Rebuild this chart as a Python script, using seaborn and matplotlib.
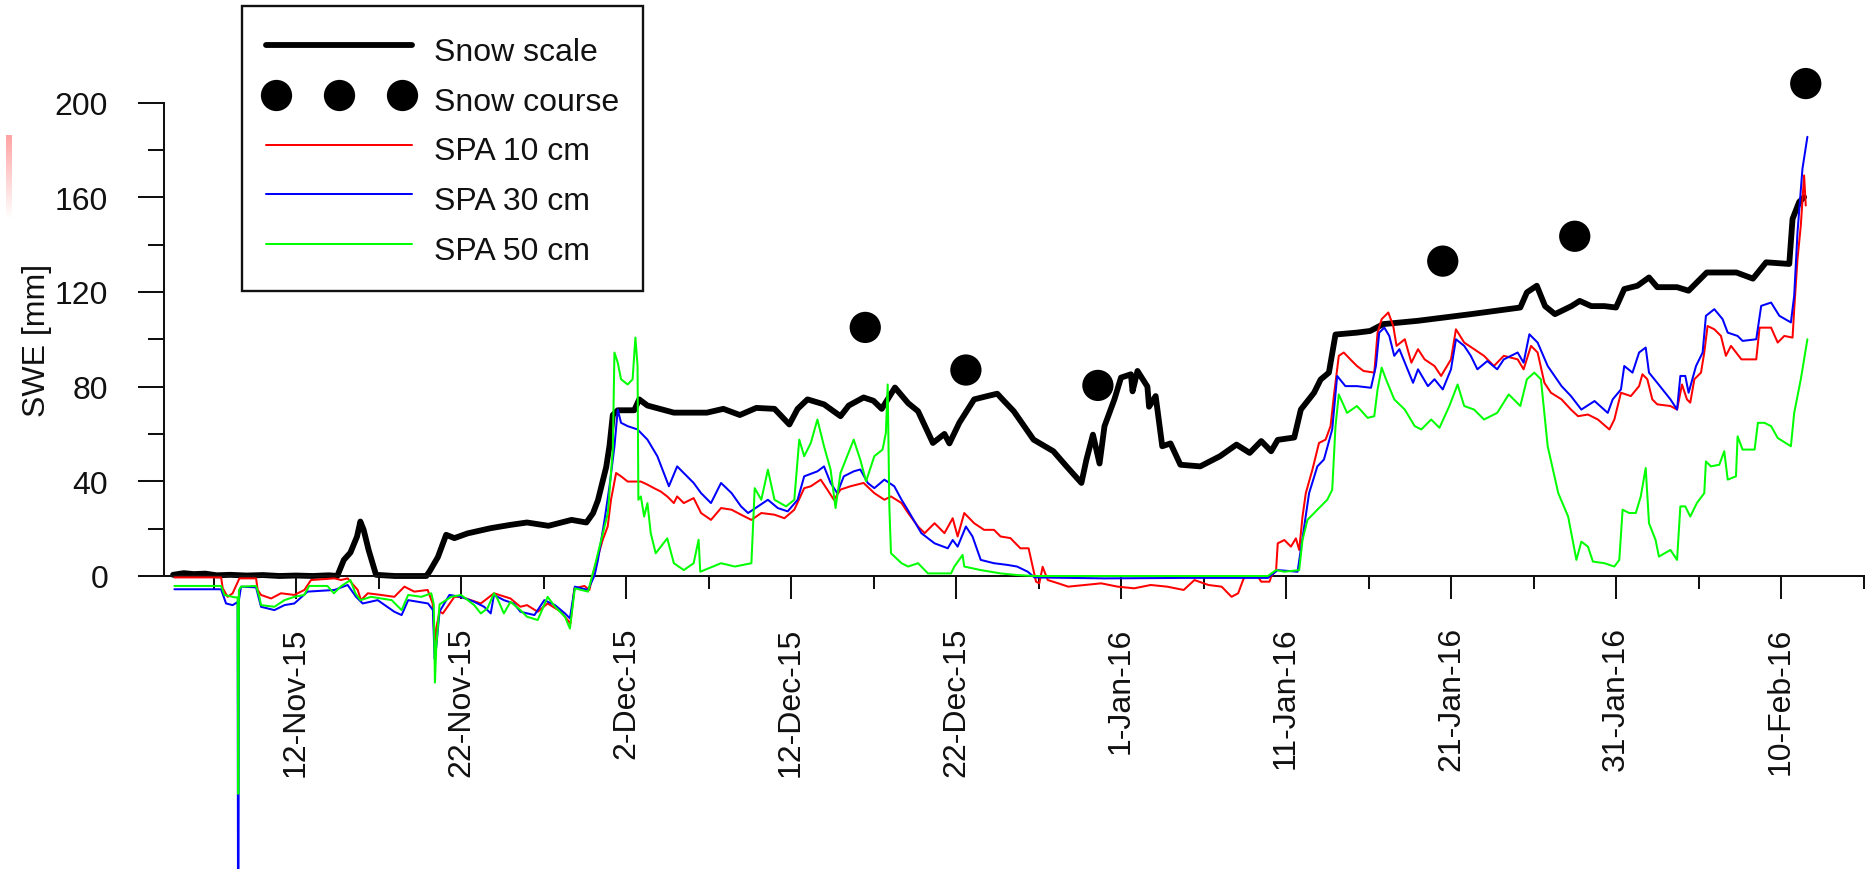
import numpy as np
import pandas as pd
import matplotlib
matplotlib.use("Agg")
import matplotlib.pyplot as plt
from matplotlib.lines import Line2D
from matplotlib.legend_handler import HandlerLine2D
import seaborn as sns

# Time is given as days since 1 Nov 2015 00:00
ORIGIN = pd.Timestamp("2015-11-01")

# Snow scale SWE (mm)
scale_points = [
    (3.55, 0.5), (4.2, 1.2), (4.8, 0.8), (5.5, 1.0), (6.2, 0.3), (7.0, 0.5), (8.0, 0.2),
    (9.0, 0.4), (10.0, 0.0), (11.0, 0.2), (12.0, 0.0), (13.0, 0.3), (13.5, 0.0), (13.9, 6.8),
    (14.3, 9.9), (14.7, 16.7), (14.9, 23.0), (15.1, 19.5), (15.4, 11.0), (15.85, 0.5),
    (17.0, 0.0), (18.9, 0.0), (19.1, 2.0), (19.6, 8.0), (20.1, 17.4), (20.6, 16.0),
    (21.4, 18.0), (22.8, 20.2), (24.0, 21.6), (25.0, 22.6), (26.3, 21.2), (27.7, 23.7),
    (28.6, 22.6), (29.0, 26.5), (29.3, 32.0), (29.6, 40.5), (29.8, 46.0), (30.0, 55.0),
    (30.2, 68.0), (30.5, 70.0), (31.5, 70.0), (31.8, 74.6), (32.3, 72.0), (33.9, 69.0),
    (35.9, 69.0), (36.9, 70.6), (37.9, 68.0), (38.9, 71.0), (40.0, 70.6), (40.9, 64.0),
    (41.4, 70.6), (42.0, 74.6), (43.0, 72.5), (44.0, 67.5), (44.5, 72.0), (45.4, 75.4),
    (46.0, 74.0), (46.5, 70.6), (47.3, 79.6), (48.1, 73.0), (48.7, 69.6), (49.6, 56.2),
    (50.3, 60.0), (50.6, 56.0), (51.2, 64.7), (52.1, 74.6), (52.9, 76.0), (53.5, 77.0),
    (53.9, 74.0), (54.5, 69.6), (55.7, 57.6), (56.9, 52.7), (57.7, 46.3), (58.6, 39.3),
    (58.9, 49.0), (59.3, 59.7), (59.7, 47.5), (60.0, 63.3), (60.6, 74.6), (61.0, 83.8),
    (61.6, 85.2), (61.7, 78.0), (62.0, 86.6), (62.6, 80.0), (62.7, 71.5), (63.1, 76.0),
    (63.5, 54.8), (64.0, 56.0), (64.6, 47.0), (65.8, 46.3), (67.0, 50.6), (68.0, 55.5),
    (68.8, 52.0), (69.5, 57.0), (70.1, 52.7), (70.5, 57.5), (71.5, 58.5), (71.9, 70.3),
    (72.7, 77.4), (73.1, 83.0), (73.6, 85.9), (73.8, 94.0), (74.0, 102.0), (75.3, 102.8),
    (76.1, 103.5), (76.9, 106.4), (79.0, 107.8), (82.2, 110.6), (85.2, 113.4), (85.6, 119.8),
    (86.2, 122.6), (86.7, 114.0), (87.3, 110.6), (88.3, 114.0), (88.8, 116.2), (89.5, 114.0),
    (90.3, 114.0), (91.0, 113.4), (91.5, 121.2), (92.3, 122.6), (93.0, 126.1), (93.5, 122.0),
    (94.7, 122.0), (95.4, 120.5), (96.5, 128.2), (98.3, 128.2), (99.3, 125.6), (100.1, 132.5),
    (101.5, 131.8), (101.7, 150.8), (102.1, 158.0), (102.4, 160.0),
]

# Manual snow course measurements (mm)
course_day = [45.5, 51.6, 59.6, 80.5, 88.5, 102.5]
course_swe = [105.0, 87.0, 80.5, 133.0, 143.5, 208.0]

# Snow pillow (SPA) readings at 10 cm
spa10_points = [
    (3.63, -0.6), (6.46, -0.6), (6.56, -5.2), (6.86, -8.8), (7.16, -7.3), (7.57, -1.0),
    (8.58, -1.0), (8.68, -5.9), (8.88, -8.0), (9.49, -9.5), (10.09, -7.3), (10.9, -8.0),
    (11.51, -5.9), (11.91, -1.7), (13.33, -1.0), (13.73, -1.7), (14.13, -1.0), (14.74, -5.9),
    (14.94, -10.2), (15.35, -7.3), (16.15, -8.0), (16.96, -8.8), (17.57, -4.5), (18.17, -6.6),
    (18.98, -5.9), (19.28, -11.6), (19.4, -28.0), (19.5, -22.0), (19.7, -15.0), (19.9, -15.8),
    (20.6, -8.8), (21.0, -8.8), (22.2, -11.6), (23.0, -7.3), (24.0, -9.5), (24.6, -13.0),
    (25.0, -12.3), (25.65, -15.1), (26.25, -11.6), (27.06, -15.1), (27.63, -20.1),
    (27.87, -5.2), (28.48, -4.2), (28.78, -5.9), (28.98, 0.4), (29.18, 5.4), (29.59, 15.3),
    (29.89, 20.9), (30.09, 32.2), (30.4, 43.5), (30.7, 42.1), (31.1, 39.9), (31.9, 39.9),
    (32.3, 38.6), (32.7, 37.1), (33.1, 35.7), (33.5, 33.6), (33.9, 30.8), (34.1, 33.6),
    (34.5, 30.8), (35.1, 32.9), (35.55, 26.6), (36.15, 23.7), (36.76, 28.7), (37.4, 28.0),
    (37.97, 25.9), (38.6, 23.7), (39.2, 26.6), (40.0, 25.9), (40.6, 24.4), (41.2, 28.0),
    (41.8, 37.1), (42.2, 37.9), (42.8, 40.7), (43.2, 36.5), (43.6, 32.2), (44.0, 36.5),
    (44.6, 37.9), (45.4, 39.3), (46.05, 35.0), (46.66, 32.2), (47.06, 33.6), (47.7, 30.8),
    (48.1, 26.6), (48.7, 20.9), (49.1, 18.1), (49.7, 22.3), (50.3, 18.1), (50.8, 24.4),
    (51.1, 16.7), (51.5, 26.6), (52.1, 22.3), (52.7, 19.5), (53.3, 19.5), (53.7, 16.7),
    (54.3, 16.0), (54.9, 11.7), (55.4, 11.7), (55.65, 3.9), (55.85, -2.4), (56.05, -3.1),
    (56.25, 3.9), (56.56, -1.7), (57.2, -3.1), (57.8, -4.5), (58.8, -3.8), (59.8, -3.1),
    (60.8, -4.5), (61.8, -5.2), (62.8, -3.8), (63.8, -4.5), (64.8, -5.9), (65.45, -1.7),
    (66.3, -3.8), (67.1, -4.5), (67.7, -8.8), (68.1, -7.3), (68.4, -1.7), (68.5, -0.3),
    (69.3, -0.3), (69.5, -2.4), (70.0, -2.4), (70.1, -0.3), (70.4, 2.5), (70.5, 13.8),
    (70.9, 15.2), (71.3, 12.4), (71.6, 15.9), (71.8, 11.0), (72.0, 25.1), (72.2, 35.0),
    (72.6, 44.9), (73.0, 56.2), (73.4, 57.6), (73.7, 63.3), (73.9, 76.0), (74.2, 93.0),
    (74.5, 94.4), (74.9, 91.5), (75.3, 88.7), (75.7, 86.6), (76.35, 85.9), (76.55, 102.8),
    (76.8, 108.5), (77.2, 111.3), (77.5, 105.6), (77.7, 97.2), (78.2, 100.0), (78.6, 90.1),
    (79.0, 95.8), (79.4, 91.5), (80.0, 88.7), (80.4, 84.5), (81.0, 91.5), (81.3, 104.2),
    (81.8, 98.6), (82.4, 95.8), (83.0, 93.0), (83.6, 88.7), (84.2, 93.0), (85.04, 91.5),
    (85.4, 87.3), (85.85, 97.2), (86.25, 94.4), (86.66, 81.6), (87.06, 77.4), (87.7, 74.6),
    (88.27, 70.3), (88.7, 67.5), (89.3, 68.2), (89.9, 66.1), (90.6, 61.9), (90.9, 66.1),
    (91.3, 77.4), (91.9, 76.0), (92.4, 80.2), (92.6, 85.2), (92.9, 83.1), (93.2, 74.6),
    (93.5, 72.5), (94.3, 71.8), (94.7, 70.3), (95.0, 80.9), (95.3, 74.6), (95.5, 73.2),
    (95.75, 83.1), (96.15, 85.9), (96.35, 94.4), (96.55, 105.6), (96.96, 104.2),
    (97.36, 101.4), (97.66, 93.0), (97.97, 97.2), (98.6, 91.5), (99.5, 91.5), (99.7, 104.9),
    (100.4, 104.9), (100.8, 98.6), (101.2, 101.4), (101.7, 100.7), (101.8, 112.7),
    (102.0, 133.9), (102.2, 148.0), (102.4, 169.2), (102.5, 156.5),
]

# Snow pillow (SPA) readings at 30 cm
spa30_points = [
    (3.63, -5.6), (6.46, -5.6), (6.76, -11.6), (7.16, -12.3), (7.46, -11.0), (7.5, -210.0),
    (7.54, -10.2), (7.67, -4.5), (8.58, -4.8), (8.88, -13.0), (9.69, -14.4), (10.3, -12.3),
    (10.9, -11.6), (11.7, -6.6), (13.33, -5.9), (14.13, -3.8), (14.64, -8.8), (15.04, -11.6),
    (15.95, -10.2), (16.96, -15.1), (17.4, -16.5), (17.8, -10.2), (19.0, -11.6), (19.3, -14.4),
    (19.4, -35.0), (19.5, -30.0), (19.7, -15.0), (20.3, -8.0), (21.0, -8.8), (21.8, -10.9),
    (22.4, -13.0), (22.8, -15.8), (23.0, -8.0), (23.6, -10.2), (24.2, -11.6), (24.6, -15.1),
    (25.45, -16.5), (26.05, -10.2), (26.7, -12.3), (27.3, -15.8), (27.6, -17.9), (27.9, -4.5),
    (28.7, -5.9), (29.1, 0.4), (29.3, 6.8), (29.7, 23.7), (30.0, 37.9), (30.3, 54.8),
    (30.5, 70.3), (30.7, 64.7), (31.1, 63.3), (31.7, 61.9), (32.3, 57.6), (32.9, 50.6),
    (33.6, 37.9), (34.1, 46.3), (34.5, 43.5), (35.1, 39.3), (35.55, 35.0), (36.15, 30.8),
    (36.76, 39.3), (37.4, 35.0), (37.97, 29.4), (38.4, 26.6), (39.0, 29.4), (39.6, 32.2),
    (40.2, 28.7), (40.8, 27.3), (41.4, 32.2), (41.8, 42.1), (42.6, 44.2), (43.0, 46.3),
    (43.4, 39.3), (43.8, 35.0), (44.2, 42.1), (44.8, 44.2), (45.2, 45.0), (45.65, 39.3),
    (46.05, 37.1), (46.66, 40.7), (47.26, 37.9), (47.7, 32.2), (48.07, 28.0), (48.9, 18.1),
    (49.7, 13.8), (50.5, 11.7), (50.8, 15.2), (51.1, 12.4), (51.6, 20.9), (52.0, 16.7),
    (52.5, 6.8), (53.3, 5.4), (54.1, 4.7), (54.7, 4.0), (55.35, 1.8), (55.75, -0.6),
    (60.0, -1.0), (65.0, -0.8), (69.9, -0.8), (70.5, 2.5), (71.7, 1.8), (72.1, 20.9),
    (72.4, 35.0), (72.9, 46.3), (73.3, 49.2), (73.8, 61.9), (74.1, 84.5), (74.6, 80.2),
    (75.3, 80.2), (76.15, 79.5), (76.45, 88.7), (76.65, 102.8), (76.96, 104.9),
    (77.26, 101.4), (77.56, 93.0), (77.87, 95.8), (78.37, 87.3), (78.7, 81.6), (79.0, 87.3),
    (79.6, 80.2), (80.0, 83.1), (80.5, 78.8), (81.0, 87.3), (81.3, 100.0), (81.8, 97.2),
    (82.2, 93.0), (82.6, 87.3), (83.2, 90.8), (83.8, 87.3), (84.2, 91.5), (85.04, 94.4),
    (85.4, 90.1), (85.75, 102.1), (86.25, 98.6), (86.86, 88.7), (87.7, 80.2), (88.27, 76.0),
    (88.9, 70.3), (89.7, 73.9), (90.5, 68.9), (90.8, 74.6), (91.3, 78.8), (91.5, 88.7),
    (92.0, 85.9), (92.4, 94.4), (92.8, 96.5), (93.0, 85.9), (93.5, 81.6), (94.3, 74.6),
    (94.7, 70.3), (94.9, 84.5), (95.2, 84.5), (95.4, 77.4), (95.85, 88.7), (96.25, 94.4),
    (96.45, 109.9), (96.96, 112.7), (97.46, 108.5), (97.77, 102.8), (98.37, 101.4),
    (98.67, 99.3), (99.5, 100.0), (99.8, 114.1), (100.4, 115.5), (100.9, 109.9),
    (101.6, 107.1), (101.8, 118.4), (102.0, 145.2), (102.3, 172.0), (102.6, 185.5),
]

# Snow pillow (SPA) readings at 50 cm
spa50_points = [
    (3.63, -4.2), (6.46, -4.2), (6.66, -8.0), (7.27, -9.0), (7.46, -9.0), (7.5, -92.0),
    (7.54, -6.0), (7.67, -4.5), (8.58, -4.2), (8.78, -8.8), (8.88, -12.3), (9.69, -13.0),
    (10.3, -10.2), (10.9, -8.8), (11.5, -8.0), (11.8, -4.2), (12.9, -4.2), (13.3, -7.3),
    (13.7, -4.5), (14.3, -1.7), (14.6, -7.3), (14.9, -10.2), (15.55, -8.8), (16.8, -10.2),
    (17.4, -14.4), (17.8, -8.0), (18.6, -8.8), (19.2, -7.3), (19.35, -12.0), (19.42, -45.0),
    (19.5, -30.0), (19.7, -12.0), (20.4, -8.8), (21.0, -8.0), (21.8, -12.3), (22.2, -15.8),
    (22.6, -13.7), (23.0, -7.3), (23.2, -9.5), (23.6, -15.8), (24.0, -10.9), (24.6, -14.4),
    (25.0, -17.2), (25.65, -18.6), (26.25, -8.8), (26.7, -13.0), (27.3, -17.2), (27.6, -22.2),
    (27.9, -5.2), (28.7, -6.6), (29.1, 4.0), (29.5, 15.3), (29.9, 26.6), (30.2, 53.4),
    (30.3, 94.4), (30.5, 90.1), (30.7, 83.1), (31.1, 80.9), (31.4, 83.1), (31.57, 100.7),
    (31.7, 88.7), (31.75, 32.2), (31.9, 33.6), (32.1, 25.1), (32.3, 30.8), (32.5, 18.1),
    (32.8, 9.6), (33.5, 15.9), (33.9, 5.4), (34.5, 2.5), (35.1, 5.4), (35.4, 15.3),
    (35.5, 1.8), (36.76, 5.4), (37.6, 4.0), (38.6, 5.4), (38.8, 37.1), (39.2, 32.2),
    (39.6, 44.9), (40.0, 32.2), (40.7, 29.4), (41.2, 32.2), (41.5, 57.6), (41.8, 50.6),
    (42.2, 56.2), (42.6, 66.1), (43.0, 54.8), (43.4, 44.9), (43.7, 28.7), (44.0, 43.5),
    (44.4, 50.6), (44.8, 57.6), (45.2, 49.1), (45.55, 40.0), (46.05, 50.6), (46.55, 53.4),
    (46.75, 60.5), (46.86, 80.9), (46.96, 29.4), (47.06, 9.6), (47.7, 5.4), (48.1, 4.0),
    (48.7, 5.4), (49.3, 1.1), (50.7, 1.1), (50.9, 4.0), (51.4, 8.9), (51.5, 4.0), (52.5, 2.5),
    (53.7, 1.1), (54.7, 0.4), (55.75, 0.0), (69.9, 0.0), (70.4, 2.5), (70.9, 1.8), (71.8, 2.5),
    (72.0, 15.2), (72.3, 23.7), (72.9, 28.0), (73.5, 32.2), (73.8, 36.4), (74.0, 63.3),
    (74.2, 76.7), (74.7, 68.9), (75.3, 71.8), (75.95, 66.8), (76.35, 67.5), (76.55, 78.8),
    (76.8, 88.0), (77.06, 83.1), (77.56, 74.6), (78.2, 70.3), (78.8, 63.3), (79.2, 61.9),
    (79.8, 66.1), (80.3, 62.6), (80.9, 71.8), (81.4, 80.9), (81.8, 71.8), (82.4, 70.3),
    (83.0, 66.1), (83.8, 68.9), (84.5, 76.7), (85.2, 71.8), (85.6, 83.1), (86.05, 85.9),
    (86.45, 83.1), (86.86, 54.8), (87.5, 35.0), (88.1, 25.1), (88.6, 6.8), (88.9, 14.5),
    (89.3, 12.4), (89.6, 6.1), (90.3, 5.4), (90.9, 4.0), (91.2, 6.8), (91.4, 28.0),
    (91.8, 26.6), (92.2, 26.6), (92.5, 33.6), (92.8, 45.6), (93.0, 22.3), (93.4, 15.2),
    (93.6, 8.2), (94.3, 11.0), (94.7, 6.8), (94.9, 29.4), (95.2, 29.4), (95.5, 25.1),
    (95.9, 30.8), (96.35, 35.0), (96.45, 48.4), (96.75, 46.3), (97.26, 47.0), (97.56, 52.7),
    (97.77, 40.7), (98.27, 42.1), (98.37, 59.0), (98.67, 53.4), (99.4, 53.4), (99.6, 64.7),
    (100.0, 64.7), (100.4, 63.3), (100.8, 58.3), (101.6, 54.8), (101.8, 68.9), (102.2, 83.1),
    (102.6, 100.0),
]

x_tick_labels = ["12-Nov-15", "22-Nov-15", "2-Dec-15", "12-Dec-15", "22-Dec-15",
                 "1-Jan-16", "11-Jan-16", "21-Jan-16", "31-Jan-16", "10-Feb-16"]
y_major = [0, 40, 80, 120, 160, 200]
y_minor = [20, 60, 100, 140, 180]
x_start, x_end = "2015-11-04", "2016-02-15"


def to_frame(points):
    day, swe = zip(*points)
    return pd.DataFrame({"date": ORIGIN + pd.to_timedelta(np.array(day), unit="D"),
                         "swe": np.array(swe)})


sns.set_style("white")
plt.rcParams["font.family"] = ["Liberation Sans", "DejaVu Sans"]
plt.rcParams["font.size"] = 23

W, H = 1866, 870
fig = plt.figure(figsize=(W / 100, H / 100), dpi=100)
ax_l, ax_r, ax_top = 164, 1863.5, 40
ax = fig.add_axes([ax_l / W, 0, (ax_r - ax_l) / W, (H - ax_top) / H])
ax.set_facecolor("white")

# y range: value 0 sits at pixel row 577, value 200 at row 103.5
px_per_mm = (577 - 103.5) / 200
y_lo = -(H - 577) / px_per_mm
y_hi = (577 - ax_top) / px_per_mm

SCALE_LW, SPA_LW = 4.2, 1.45
series = [
    (to_frame(scale_points), "black", SCALE_LW, 2),
    (to_frame(spa10_points), "#ff0000", SPA_LW, 3),
    (to_frame(spa30_points), "#0000ff", SPA_LW, 4),
    (to_frame(spa50_points), "#00ff00", SPA_LW, 5),
]
for df, col, lw, z in series:
    sns.lineplot(data=df, x="date", y="swe", color=col, lw=lw, estimator=None,
                 sort=False, ax=ax, zorder=z, legend=False)

course = pd.DataFrame({"date": ORIGIN + pd.to_timedelta(np.array(course_day), unit="D"),
                       "swe": course_swe})
sns.scatterplot(data=course, x="date", y="swe", color="black", s=22.5 ** 2,
                edgecolor="none", ax=ax, zorder=6, legend=False)

ax.set_xlim(pd.Timestamp(x_start), pd.Timestamp(x_end))
ax.set_ylim(y_lo, y_hi)

# Axis lines: the date axis runs along zero, the SWE axis only spans 0-200
for side in ("top", "right"):
    ax.spines[side].set_visible(False)
ax.spines["bottom"].set_position(("data", 0))
ax.spines["left"].set_bounds(0, 200)
for side in ("left", "bottom"):
    ax.spines[side].set_linewidth(1.45)
    ax.spines[side].set_color("#111111")

major_dates = [pd.to_datetime(s, format="%d-%b-%y") for s in x_tick_labels]
minor_dates = [d - pd.Timedelta(days=5) for d in major_dates] + [major_dates[-1] + pd.Timedelta(days=5)]
ax.set_xticks(major_dates)
ax.set_xticklabels(x_tick_labels)
ax.set_xticks(minor_dates, minor=True)
ax.set_yticks(y_major)
ax.set_yticklabels([str(v) for v in y_major])
ax.set_yticks(y_minor, minor=True)

ax.tick_params(axis="x", which="major", direction="out", length=16.8, width=1.45,
               pad=19.4, labelrotation=90, labelsize=23, colors="#111111", bottom=True)
ax.tick_params(axis="x", which="minor", direction="out", length=9.6, width=1.45,
               colors="#111111", bottom=True)
ax.tick_params(axis="y", which="major", direction="out", length=18.7, width=1.45,
               pad=21.6, labelsize=23, colors="#111111", left=True)
ax.tick_params(axis="y", which="minor", direction="out", length=11.3, width=1.45,
               colors="#111111", left=True)
ax.grid(False)

ax.set_xlabel("")
ax.set_ylabel("SWE [mm]", fontsize=23, color="#111111")
ax.yaxis.set_label_coords((52 - ax_l) / (ax_r - ax_l), (100 - y_lo) / (y_hi - y_lo))

line_handles = [
    Line2D([], [], color="black", lw=SCALE_LW),
    Line2D([], [], color="#ff0000", lw=SPA_LW),
    Line2D([], [], color="#0000ff", lw=SPA_LW),
    Line2D([], [], color="#00ff00", lw=SPA_LW),
]
dot_handle = Line2D([], [], color="black", ls="none", marker="o", ms=22.5, mec="none")
handles = [line_handles[0], dot_handle] + line_handles[1:]
labels = ["Snow scale", "Snow course", "SPA 10 cm", "SPA 30 cm", "SPA 50 cm"]
full_length = HandlerLine2D(numpoints=2, marker_pad=0)
leg = fig.legend(handles, labels, loc="upper left",
                 bbox_to_anchor=(241.7 / W, 1 - 7.3 / H), bbox_transform=fig.transFigure,
                 numpoints=3, fontsize=23, frameon=True, fancybox=False, shadow=False,
                 framealpha=1, edgecolor="#111111", borderpad=0.77, labelspacing=0.4,
                 handleheight=1.4, handlelength=4.55, handletextpad=0.69, borderaxespad=0,
                 handler_map={h: full_length for h in line_handles})
leg.get_frame().set_linewidth(1.7)
for t in leg.get_texts():
    t.set_color("#111111")

# faint pink streak near the left edge
streak = np.ones((84, 6, 4))
fade = np.linspace(0.0, 1.0, 84)
streak[:, :, 1] = (0.64 + 0.36 * fade)[:, None]
streak[:, :, 2] = (0.64 + 0.36 * fade)[:, None]
fig.figimage(streak, xo=6, yo=H - 220, origin="upper", zorder=10)

fig.savefig("out.png", dpi=100)
